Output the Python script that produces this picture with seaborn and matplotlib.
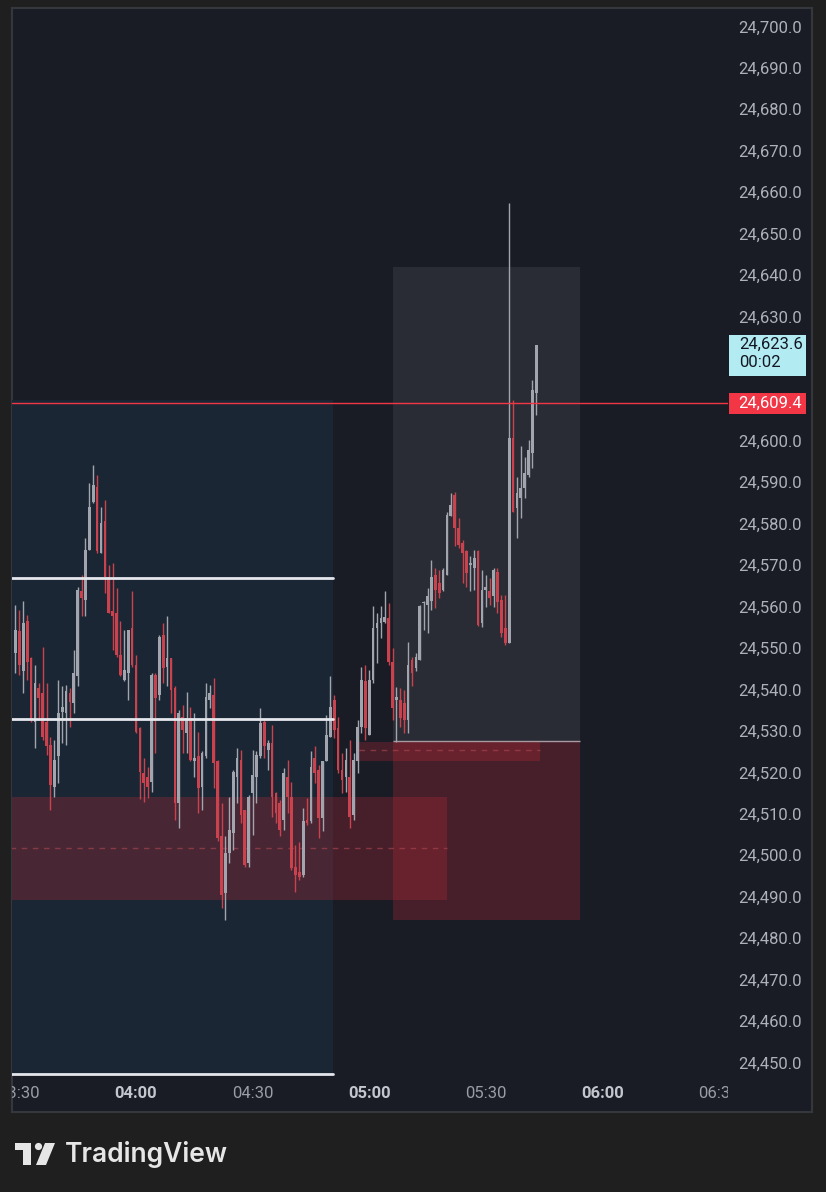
import numpy as np
import pandas as pd
import matplotlib
matplotlib.use("Agg")
import matplotlib.pyplot as plt
import seaborn as sns
from matplotlib.patches import Rectangle, Circle, Polygon

# ========================
# 1. Data (1-minute bars)
# ========================
first_bar = "2024-06-10 03:29"

opens = [24549.1, 24554.4, 24544.7, 24556.8, 24547.9, 24532.6, 24540.7, 24539.5, 24532.6, 24527.0,
         24516.9, 24524.2, 24535.0, 24534.6, 24539.5, 24537.0, 24543.5, 24564.0, 24562.0, 24574.1,
         24585.7, 24589.3, 24573.3, 24580.9, 24567.6, 24559.2, 24558.8, 24548.7, 24542.7, 24544.3,
         24555.2, 24546.3, 24531.0, 24520.3, 24519.3, 24518.1, 24543.9, 24539.0, 24553.5, 24545.9,
         24547.9, 24540.7, 24512.9, 24533.8, 24529.8, 24533.4, 24523.0, 24524.2, 24516.9, 24524.2,
         24537.8, 24539.0, 24523.0, 24504.9, 24491.2, 24500.8, 24505.7, 24519.3, 24523.4, 24511.3,
         24498.4, 24515.3, 24519.3, 24524.2, 24532.6, 24525.8, 24527.4, 24515.3, 24512.9, 24508.9,
         24519.3, 24514.5, 24497.6, 24496.4, 24495.6, 24508.9, 24508.5, 24523.8, 24520.9, 24509.3,
         24523.0, 24529.0, 24537.8, 24531.0, 24520.9, 24519.3, 24519.3, 24510.1, 24523.0, 24531.4,
         24542.3, 24529.4, 24542.7, 24555.1, 24556.3, 24556.7, 24557.5, 24547.1, 24537.9, 24537.9,
         24537.1, 24533.0, 24547.5, 24545.5, 24547.5, 24561.2, 24560.8, 24561.6, 24568.0, 24566.0,
         24564.4, 24568.0, 24582.1, 24587.3, 24579.3, 24575.7, 24573.7, 24570.4, 24569.6, 24573.7,
         24556.3, 24564.4, 24564.0, 24562.8, 24568.8, 24561.9, 24555.1, 24551.5, 24601.0, 24584.1,
         24586.5, 24588.9, 24592.1, 24597.3, 24611.8]
highs = [24560.8, 24559.6, 24561.6, 24558.4, 24548.3, 24546.3, 24541.9, 24550.7, 24541.9, 24529.0,
         24528.2, 24542.7, 24541.1, 24541.5, 24540.7, 24549.9, 24565.2, 24568.0, 24576.9, 24590.2,
         24594.6, 24592.1, 24584.5, 24586.1, 24570.4, 24570.8, 24564.8, 24556.8, 24554.8, 24554.8,
         24564.0, 24548.7, 24531.4, 24523.8, 24521.7, 24544.3, 24544.3, 24553.5, 24556.3, 24558.0,
         24547.9, 24541.1, 24535.4, 24536.6, 24539.8, 24536.2, 24534.6, 24530.2, 24525.4, 24541.9,
         24541.5, 24543.1, 24523.4, 24512.9, 24504.9, 24514.5, 24520.9, 24526.2, 24525.8, 24511.3,
         24514.9, 24525.8, 24525.4, 24535.8, 24533.0, 24528.2, 24531.8, 24515.7, 24513.7, 24521.3,
         24523.4, 24518.1, 24502.8, 24503.6, 24511.7, 24514.1, 24525.4, 24526.6, 24522.2, 24523.0,
         24534.2, 24543.5, 24539.0, 24533.8, 24525.0, 24526.2, 24528.2, 24525.0, 24533.0, 24545.9,
         24546.3, 24545.1, 24560.4, 24558.8, 24560.4, 24564.0, 24561.2, 24550.3, 24541.0, 24540.7,
         24540.3, 24551.9, 24548.3, 24549.1, 24560.8, 24561.6, 24564.8, 24571.7, 24569.6, 24569.2,
         24569.6, 24583.3, 24587.7, 24588.1, 24581.7, 24576.5, 24574.1, 24572.5, 24574.1, 24574.1,
         24569.2, 24568.0, 24567.2, 24569.6, 24569.6, 24563.2, 24563.2, 24657.7, 24610.2, 24591.7,
         24599.0, 24596.5, 24600.6, 24615.0, 24623.5]
lows = [24544.3, 24543.9, 24539.5, 24542.7, 24532.6, 24526.2, 24533.0, 24528.2, 24524.6, 24511.3,
        24514.5, 24517.8, 24527.4, 24527.0, 24531.4, 24534.6, 24541.1, 24558.0, 24558.0, 24574.1,
        24585.3, 24573.3, 24573.3, 24563.6, 24558.8, 24549.9, 24548.3, 24543.5, 24542.3, 24537.9,
        24545.9, 24529.8, 24514.0, 24513.3, 24514.1, 24515.7, 24525.0, 24537.8, 24541.9, 24541.1,
        24534.6, 24508.9, 24506.9, 24525.0, 24525.0, 24523.0, 24519.3, 24510.5, 24511.3, 24523.8,
        24536.0, 24516.5, 24503.7, 24487.6, 24484.7, 24498.4, 24501.6, 24512.9, 24508.1, 24497.6,
        24497.6, 24505.3, 24512.9, 24523.8, 24523.8, 24520.9, 24509.7, 24508.1, 24504.9, 24506.5,
        24510.5, 24496.8, 24491.6, 24494.4, 24495.2, 24507.7, 24508.1, 24517.7, 24504.5, 24506.1,
        24523.0, 24529.0, 24528.6, 24520.1, 24515.3, 24515.7, 24506.9, 24508.9, 24520.1, 24529.8,
        24528.2, 24529.4, 24541.9, 24546.7, 24552.7, 24556.3, 24546.3, 24533.0, 24527.7, 24531.4,
        24529.8, 24529.8, 24541.1, 24544.7, 24547.5, 24554.8, 24554.0, 24559.6, 24560.0, 24562.4,
        24564.0, 24568.0, 24582.1, 24574.9, 24574.5, 24566.0, 24565.2, 24564.0, 24564.4, 24555.6,
        24555.5, 24560.3, 24560.7, 24560.3, 24558.7, 24553.1, 24551.1, 24551.5, 24583.3, 24576.8,
        24581.7, 24586.5, 24591.7, 24593.7, 24606.6]
closes = [24554.8, 24546.3, 24556.3, 24547.1, 24533.0, 24541.9, 24538.3, 24529.0, 24526.6, 24517.3,
          24523.4, 24534.6, 24536.2, 24539.9, 24537.4, 24544.3, 24564.4, 24562.4, 24574.1, 24584.5,
          24589.7, 24573.7, 24580.5, 24567.6, 24558.8, 24558.0, 24548.7, 24543.9, 24545.1, 24554.8,
          24546.3, 24530.2, 24520.5, 24517.7, 24516.9, 24543.9, 24538.2, 24553.1, 24545.5, 24547.9,
          24540.3, 24512.9, 24534.6, 24530.6, 24533.4, 24523.4, 24523.8, 24516.5, 24525.0, 24538.6,
          24539.4, 24522.6, 24504.5, 24490.8, 24500.8, 24506.5, 24520.5, 24523.8, 24510.1, 24498.0,
          24514.5, 24519.7, 24524.6, 24532.2, 24526.6, 24527.4, 24514.5, 24510.5, 24506.5, 24520.1,
          24514.5, 24497.2, 24495.6, 24495.2, 24508.5, 24508.1, 24521.7, 24520.1, 24509.3, 24523.0,
          24529.4, 24536.2, 24530.6, 24520.9, 24518.5, 24523.4, 24509.7, 24523.4, 24531.4, 24542.7,
          24531.0, 24542.7, 24555.1, 24556.3, 24557.5, 24557.9, 24547.1, 24535.9, 24538.6, 24533.4,
          24533.0, 24546.3, 24544.3, 24548.3, 24560.4, 24561.5, 24562.8, 24567.6, 24564.4, 24563.6,
          24569.2, 24582.5, 24584.9, 24579.3, 24575.3, 24573.3, 24568.4, 24570.8, 24572.1, 24556.0,
          24564.4, 24565.2, 24562.4, 24569.2, 24561.5, 24553.9, 24551.5, 24601.0, 24583.3, 24587.7,
          24588.9, 24592.5, 24598.2, 24612.6, 24623.6]

last_price = 24623.6
countdown = "00:02"
alert_price = 24609.4

price_ticks = [24450, 24460, 24470, 24480, 24490, 24500, 24510, 24520, 24530, 24540, 24550, 24560, 24570,
               24580, 24590, 24600, 24610, 24620, 24630, 24640, 24650, 24660, 24670, 24680, 24690, 24700]
time_ticks = ["03:30", "04:00", "04:30", "05:00", "05:30", "06:00", "06:30"]

# drawn zones: (start time, end time, low price, high price[, mid line])
session_zone = ("03:00", "04:50:40", 24447.5, 24610.3)
white_levels = [24567.3, 24533.2, 24447.5]
target_zone = ("05:06:05", "05:54:10", 24527.9, 24642.3)
stop_zone = ("05:06:05", "05:54:10", 24484.7, 24527.9)
demand_zone = ("03:00", "05:20:00", 24489.6, 24514.4, 24502.1)
small_zone = ("04:57:25", "05:43:55", 24523.2, 24527.8, 24525.7)

# ========================
# 2. Helpers
# ========================
base = pd.Timestamp("2024-06-10 04:00")


def to_min(s):
    return (pd.Timestamp("2024-06-10 " + s) - base).total_seconds() / 60


times = pd.date_range(first_bar, periods=len(opens), freq="min")
minutes = ((times - base).total_seconds() / 60).to_numpy()
o, h, l, c = map(np.array, (opens, highs, lows, closes))

W, H = 826, 1192


def rect(x0, y0, x1, y1):
    return [x0 / W, 1 - y1 / H, (x1 - x0) / W, (y1 - y0) / H]


# ========================
# 3. Figure
# ========================
sns.set_theme(style="dark")
plt.rcParams["font.family"] = ["Roboto", "DejaVu Sans"]

fig = plt.figure(figsize=(W / 100, H / 100), dpi=100, facecolor="#1f1f1f")

panel = fig.add_axes(rect(12, 8, 812, 1112))
panel.set_facecolor("#191c25")
panel.set_xticks([])
panel.set_yticks([])
for sp in panel.spines.values():
    sp.set_color("#35373d")
    sp.set_linewidth(1.5)

ylim = (24438.4, 24704.8)
ax = fig.add_axes(rect(12, 8, 728, 1112))
ax.set_facecolor("none")
ax.set_xticks([])
ax.set_yticks([])
for sp in ax.spines.values():
    sp.set_visible(False)

# zones
t0, t1, p0, p1 = session_zone
ax.add_patch(Rectangle((to_min(t0), p0), to_min(t1) - to_min(t0), p1 - p0,
                       facecolor="#1b2634", edgecolor="none", zorder=1))
t0, t1, p0, p1 = target_zone
ax.add_patch(Rectangle((to_min(t0), p0), to_min(t1) - to_min(t0), p1 - p0,
                       facecolor="white", alpha=0.07, edgecolor="none", zorder=1))
red_fill = (0.70, 0.16, 0.21)
t0, t1, p0, p1 = stop_zone
ax.add_patch(Rectangle((to_min(t0), p0), to_min(t1) - to_min(t0), p1 - p0,
                       facecolor=red_fill, alpha=0.30, edgecolor="none", zorder=2))
ax.hlines(p1, to_min(t0), to_min(t1), color="#a99aa2", lw=1, zorder=2.5)
for zone in (demand_zone, small_zone):
    t0, t1, p0, p1, mid = zone
    ax.add_patch(Rectangle((to_min(t0), p0), to_min(t1) - to_min(t0), p1 - p0,
                           facecolor=red_fill, alpha=0.30, edgecolor="none", zorder=2))
    ax.hlines(mid, to_min(t0), to_min(t1), color="#a8454f", lw=1,
              linestyles=(0, (4, 4)), alpha=0.65, zorder=2.5)

# white levels
t0, t1 = to_min(session_zone[0]), to_min(session_zone[1])
lv = pd.DataFrame({"t": [t0, t1] * len(white_levels),
                   "price": [p for p in white_levels for _ in (0, 1)],
                   "level": [i for i in range(len(white_levels)) for _ in (0, 1)]})
sns.lineplot(data=lv, x="t", y="price", units="level", estimator=None, color="#e4e6ec",
             lw=2, ax=ax, legend=False, zorder=6)
ax.set_xlabel("")
ax.set_ylabel("")

# candles
up = c >= o
cols = np.where(up, "#a2a5ae", "#c9424d")
ax.vlines(minutes, l, h, colors=cols, lw=1, zorder=3)
ax.bar(minutes, np.maximum(np.abs(c - o), 0.3), bottom=np.minimum(o, c), width=0.7,
       color=cols, linewidth=0, zorder=4)

ax.axhline(alert_price, color="#f23645", lw=1, zorder=7)
ax.set_xlim(-31.9, 152.3)
ax.set_ylim(*ylim)

# time axis labels (clipped by the plot area like the original)
for lab in time_ticks:
    bold = lab.endswith(":00")
    ax.text(to_min(lab), 24442.8, lab, ha="center", va="center", fontsize=12,
            color="#c3c6cd" if bold else "#9a9da5", fontweight="bold" if bold else "normal",
            clip_on=True)

# price axis
pax = fig.add_axes(rect(728, 8, 812, 1112))
pax.set_facecolor("none")
pax.set_xlim(0, 84)
pax.set_ylim(*ylim)
pax.set_xticks([])
pax.set_yticks([])
for sp in pax.spines.values():
    sp.set_visible(False)

cyan_lo, cyan_hi = last_price - 7.6, last_price + 2.3
red_lo, red_hi = alert_price - 2.55, alert_price + 2.55
for p in price_ticks:
    # labels hidden under the price tags are not drawn
    if cyan_lo - 1.5 < p < cyan_hi + 1.5 or red_lo - 1.5 < p < red_hi + 1.5:
        continue
    pax.text(42, p, f"{p:,.1f}", ha="center", va="center", fontsize=12, color="#aeb1b9", zorder=2)

pax.add_patch(Rectangle((1, cyan_lo), 77, cyan_hi - cyan_lo, facecolor="#b2ebf2",
                        edgecolor="none", zorder=5))
pax.text(11, last_price, f"{last_price:,.1f}", ha="left", va="center", fontsize=12,
         color="#131722", zorder=6)
pax.text(11, last_price - 4.4, countdown, ha="left", va="center", fontsize=12,
         color="#131722", zorder=6)
pax.add_patch(Rectangle((1, red_lo), 77, red_hi - red_lo, facecolor="#f23645",
                        edgecolor="none", zorder=5))
pax.text(42, alert_price, f"{alert_price:,.1f}", ha="center", va="center", fontsize=12,
         color="white", zorder=6)

# TradingView mark
lax = fig.add_axes(rect(0, 1112, W, H))
lax.set_xlim(0, W)
lax.set_ylim(H, 1112)
lax.axis("off")
logo_col = "#e6e6e6"
lax.add_patch(Rectangle((15, 1143), 16, 7, facecolor=logo_col, edgecolor="none"))
lax.add_patch(Rectangle((23, 1143), 8, 22, facecolor=logo_col, edgecolor="none"))
lax.add_patch(Circle((38.5, 1146.5), 3.6, facecolor=logo_col, edgecolor="none"))
lax.add_patch(Polygon([[45, 1143], [55, 1143], [46, 1165], [36, 1165]], closed=True,
                      facecolor=logo_col, edgecolor="none"))
lax.text(65, 1154, "TradingView", ha="left", va="center", fontsize=19,
         color=logo_col, fontweight="semibold", family=["Inter", "DejaVu Sans"])

fig.savefig("out.png", dpi=100, facecolor=fig.get_facecolor())
